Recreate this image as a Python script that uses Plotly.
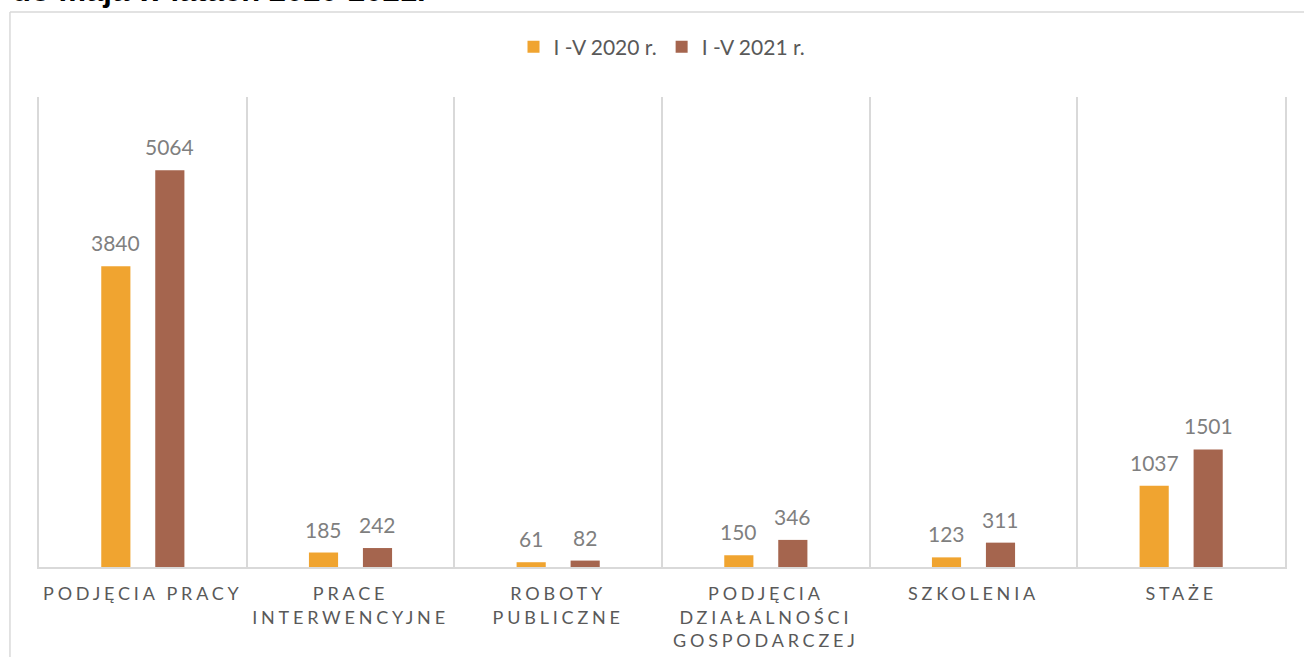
import plotly.graph_objects as go

categories = [
    "PODJĘCIA PRACY",
    "PRACE<br>INTERWENCYJNE",
    "ROBOTY<br>PUBLICZNE",
    "PODJĘCIA<br>DZIAŁALNOŚCI<br>GOSPODARCZEJ",
    "SZKOLENIA",
    "STAŻE",
]
series_names = ["I -V 2020 r.", "I -V 2021 r."]
values_2020 = [3840, 185, 61, 150, 123, 1037]
values_2021 = [5064, 242, 82, 346, 311, 1501]
title_text = "do maja w latach 2020-2021."

ORANGE = "#F0A430"
BROWN = "#A5654E"
GRAY_TEXT = "#595959"
GRID = "#D9D9D9"
LABEL_FONT = "Lato"

fig = go.Figure()
fig.add_trace(go.Bar(x=categories, y=values_2020, name=series_names[0],
                     marker=dict(color=ORANGE, line=dict(width=0))))
fig.add_trace(go.Bar(x=categories, y=values_2021, name=series_names[1],
                     marker=dict(color=BROWN, line=dict(width=0))))

# data labels sit a bit higher above the bars than plotly's own outside text
annotations = []
for vals, shift in [(values_2020, -27), (values_2021, 27)]:
    for cat, v in zip(categories, vals):
        annotations.append(dict(
            x=cat, y=v, xref="x", yref="y", text=str(v), showarrow=False,
            xshift=shift, yshift=9, yanchor="bottom",
            font=dict(family=LABEL_FONT, size=21, color="#7F7F7F"),
        ))

# the chart title is cut off at the top of the picture
annotations.append(dict(
    x=-0.0233, y=1.186, xref="paper", yref="paper", text="<b>" + title_text + "</b>",
    showarrow=False, xanchor="left", yanchor="bottom",
    font=dict(family="Liberation Sans, Arial", size=31, color="black"),
))

shapes = [
    dict(type="line", xref="paper", yref="paper", x0=-0.0233, x1=-0.0233,
         y0=1.1809, y1=-0.3, line=dict(color=GRID, width=1.5)),
    dict(type="line", xref="paper", yref="paper", x0=-0.0233, x1=1.2,
         y0=1.1809, y1=1.1809, line=dict(color=GRID, width=1.5)),
]

fig.update_layout(
    width=1304, height=657,
    margin=dict(l=39, r=19, t=97, b=90),
    paper_bgcolor="white", plot_bgcolor="white",
    barmode="group", bargap=0.48, bargroupgap=0.46,
    showlegend=True,
    legend=dict(orientation="h", x=0.5, xanchor="center", y=1.106, yanchor="middle",
                font=dict(family=LABEL_FONT, size=21, color=GRAY_TEXT),
                traceorder="normal", itemwidth=30),
    annotations=annotations,
    shapes=shapes,
)
fig.update_xaxes(
    type="category", tickson="boundaries", showgrid=True, gridcolor=GRID, gridwidth=1.5,
    showline=True, linecolor=GRID, linewidth=1.5, ticks="", range=[-0.5, 5.5],
    tickfont=dict(family=LABEL_FONT, size=18, color=GRAY_TEXT),
    ticklabelstandoff=10, automargin=False,
)
# mirrored y axis line gives the gridlines on the outer edges
fig.update_yaxes(range=[0, 6000], showgrid=False, zeroline=False,
                 showline=True, mirror=True, linecolor=GRID, linewidth=1.5,
                 showticklabels=False, ticks="", automargin=False)

# no page margin, and Excel-like letter spacing on the category labels
post = """
document.body.style.margin = '0';
document.querySelectorAll('.xtick text').forEach(function (t) {
    t.style.letterSpacing = '3.8px';
});
"""
fig.write_html("out.html", post_script=post, config={"displayModeBar": False})
